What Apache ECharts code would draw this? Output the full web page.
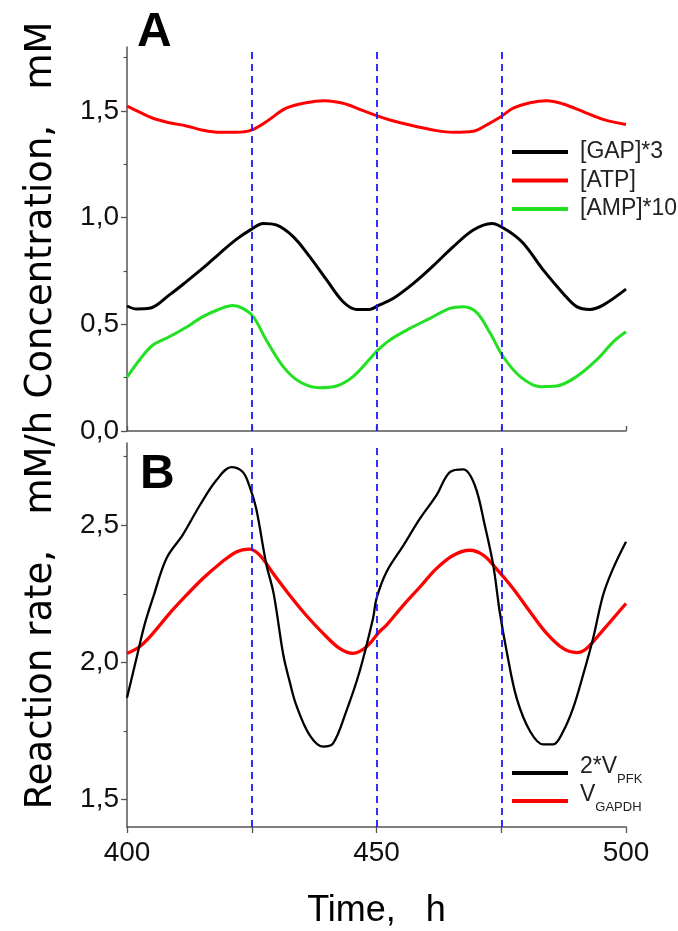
<!DOCTYPE html>
<html><head><meta charset="utf-8">
<script src="https://cdn.jsdelivr.net/npm/echarts@6/dist/echarts.min.js"></script>
<style>html,body{margin:0;padding:0;background:#fff}#c{width:678px;height:931px}</style>
</head><body><div id="c"></div>
<script>
// ---- axis / tick data ----
const xTicks = [400, 425, 450, 475, 500];
const xLabels = [400, 450, 500];
const markTimes = [425, 450, 475];
const yTicksA = [0, 0.5, 1.0, 1.5];
const yMinorA = [0.25, 0.75, 1.25, 1.75];
const yTicksB = [1.5, 2.0, 2.5];
const yMinorB = [1.75, 2.25, 2.75];

// ---- Panel A ----
const atpT = [400, 402.5, 405.2, 408.5, 411.9, 415.2, 418.6, 421.9, 424.9, 427.9, 431.9, 435.9, 439.6, 443.3, 446.6, 450, 452.7, 456.7, 462.0, 465.4, 469.4, 472.1, 474.9, 477.4, 480.8, 484.1, 487.4, 491.4, 495.4, 500];
const atpV = [1.523, 1.495, 1.466, 1.445, 1.43, 1.41, 1.40, 1.40, 1.41, 1.45, 1.513, 1.539, 1.548, 1.536, 1.508, 1.478, 1.458, 1.434, 1.408, 1.40, 1.405, 1.435, 1.473, 1.513, 1.539, 1.548, 1.533, 1.497, 1.461, 1.437];

const gapT = [400, 401.9, 404.5, 408.5, 411.9, 415.2, 418.6, 421.9, 424.9, 427.3, 429.9, 433.3, 436.6, 440, 443.3, 446, 448.6, 450.5, 453.4, 457.4, 461.4, 465.4, 469.4, 473.1, 476.1, 479.4, 483.4, 487.4, 490.1, 492.8, 495.4, 500];
const gapV = [0.586, 0.572, 0.575, 0.638, 0.70, 0.763, 0.833, 0.898, 0.945, 0.973, 0.966, 0.911, 0.817, 0.708, 0.606, 0.570, 0.570, 0.59, 0.622, 0.692, 0.775, 0.864, 0.942, 0.973, 0.942, 0.88, 0.755, 0.645, 0.583, 0.570, 0.59, 0.665];

const ampT = [400, 402.5, 405.2, 408.5, 411.9, 415.2, 418.6, 421.2, 423.2, 425.3, 427.9, 431.3, 434.6, 438.6, 442, 445.3, 448.6, 450.3, 452.7, 456.7, 460.7, 464.7, 467.4, 470.1, 472.8, 475.4, 478.8, 482.8, 486.1, 490.1, 494.1, 497.5, 500];
const ampV = [0.252, 0.333, 0.403, 0.442, 0.486, 0.536, 0.572, 0.588, 0.575, 0.536, 0.427, 0.302, 0.231, 0.203, 0.211, 0.255, 0.336, 0.38, 0.427, 0.481, 0.528, 0.575, 0.583, 0.555, 0.458, 0.348, 0.255, 0.208, 0.211, 0.255, 0.333, 0.419, 0.465];

// ---- Panel B ----
const pfkT = [400, 401.9, 403.5, 405.2, 407.9, 411.2, 414.6, 417.9, 420.9, 423.2, 424.6, 425.9, 427.9, 429.4, 431.3, 432.6, 433.9, 436.6, 439.3, 441.3, 443.9, 446.6, 449.3, 450.0, 452.0, 455.4, 458.7, 462.0, 464.7, 467.4, 469.7, 471.7, 473.4, 474.7, 476.1, 478.1, 480.8, 483.4, 485.4, 487.4, 489.4, 491.4, 493.4, 495.4, 497.4, 500];
const pfkV = [1.871, 2.015, 2.136, 2.235, 2.379, 2.466, 2.573, 2.664, 2.712, 2.694, 2.64, 2.56, 2.36, 2.25, 2.03, 1.93, 1.845, 1.735, 1.693, 1.705, 1.82, 1.966, 2.16, 2.233, 2.33, 2.427, 2.524, 2.609, 2.694, 2.704, 2.646, 2.50, 2.354, 2.184, 2.039, 1.869, 1.748, 1.701, 1.701, 1.748, 1.833, 1.954, 2.087, 2.245, 2.342, 2.44];

const gapdhT = [400, 402.5, 405.2, 408.5, 411.9, 415.2, 418.6, 421.9, 424.6, 426.6, 429.3, 432.6, 435.9, 439.3, 442.6, 445.3, 448.0, 450.6, 452.0, 455.4, 458.7, 462.0, 465.4, 468.7, 471.4, 474.0, 477.4, 480.8, 484.1, 487.4, 490.1, 492.1, 495.4, 500];
const gapdhV = [2.033, 2.057, 2.106, 2.178, 2.245, 2.306, 2.36, 2.403, 2.413, 2.391, 2.324, 2.245, 2.172, 2.106, 2.051, 2.033, 2.057, 2.112, 2.136, 2.209, 2.275, 2.342, 2.391, 2.409, 2.391, 2.342, 2.269, 2.184, 2.106, 2.051, 2.036, 2.051, 2.118, 2.215];

const legendA = ['[GAP]*3', '[ATP]', '[AMP]*10'];
const legendB = ['2*VPFK', 'VGAPDH'];
const legendBRich = {'2*VPFK': '{n|2*V}{s|PFK}', 'VGAPDH': '{n|V}{s|GAPDH}'};

const zip = (t, v) => t.map((x, i) => [x, v[i]]);
const FONT = '"Liberation Sans", Arial, sans-serif';
const AX = '#555';
const fmt = v => v.toFixed(1).replace('.', ',');

const grids = [
  {left: 127, top: 47, width: 499, height: 384},
  {left: 127, top: 443, width: 499, height: 384}
];

function xAxis(gi, showLabels) {
  return {
    type: 'value', gridIndex: gi, min: 400, max: 500, interval: 25,
    axisLine: {show: true, lineStyle: {color: AX, width: 1.5}},
    axisTick: {show: true, inside: !showLabels, length: showLabels ? 6 : 5, lineStyle: {color: AX, width: 1.3}},
    axisLabel: {show: showLabels, customValues: xLabels, margin: 12, fontSize: 28, lineHeight: 28, color: '#111', fontFamily: FONT},
    splitLine: {show: false},
    name: showLabels ? 'Time,   h' : '', nameLocation: 'middle', nameGap: 66,
    nameTextStyle: {fontSize: 36, lineHeight: 36, color: '#000', fontFamily: FONT}
  };
}
function yAxisMain(gi, min, max, ticks, name, pad) {
  return {
    type: 'value', gridIndex: gi, min: min, max: max,
    axisLine: {show: true, lineStyle: {color: AX, width: 1.5}},
    axisTick: {show: true, customValues: ticks, length: 6, lineStyle: {color: AX, width: 1.3}},
    axisLabel: {show: true, customValues: ticks, formatter: fmt, margin: 8, fontSize: 28, color: '#111', fontFamily: FONT},
    splitLine: {show: false},
    name: name, nameLocation: 'middle', nameGap: 67,
    nameTextStyle: {fontSize: 37, color: '#000', fontFamily: '"DejaVu Sans", sans-serif', padding: [0, 0, 0, pad]}
  };
}
function yAxisMinor(gi, min, max, ticks) {
  return {
    type: 'value', gridIndex: gi, min: min, max: max, position: 'left',
    axisLine: {show: false},
    axisTick: {show: true, customValues: ticks, length: 3.5, lineStyle: {color: AX, width: 1.2}},
    axisLabel: {show: false},
    splitLine: {show: false}
  };
}

const markLineCfg = {
  silent: true, symbol: ['none', 'none'], label: {show: false},
  lineStyle: {type: [7, 5], color: '#1a1aff', width: 1.8},
  data: markTimes.map(t => ({xAxis: t}))
};

function lineSeries(name, xi, yi, data, color, width, withMark) {
  const s = {
    name: name, type: 'line', xAxisIndex: xi, yAxisIndex: yi, data: data,
    showSymbol: false, symbol: 'none', smooth: 0.35,
    lineStyle: {color: color, width: width}, itemStyle: {color: color},
    z: 3
  };
  if (withMark) s.markLine = markLineCfg;
  return s;
}

const option = {
  animation: false,
  backgroundColor: '#fff',
  textStyle: {fontFamily: FONT},
  grid: grids,
  xAxis: [xAxis(0, false), xAxis(1, true)],
  yAxis: [
    yAxisMain(0, 0, 1.8, yTicksA, 'Concentration,   mM', 58),
    yAxisMinor(0, 0, 1.8, yMinorA),
    yAxisMain(1, 1.4, 2.8, yTicksB, 'Reaction rate,   mM/h', 50),
    yAxisMinor(1, 1.4, 2.8, yMinorB)
  ],
  legend: [
    {
      data: legendA, orient: 'vertical', left: 512, top: 139, padding: 0,
      icon: 'rect', itemWidth: 56, itemHeight: 4, itemGap: 2.5, selectedMode: false,
      textStyle: {fontSize: 23, lineHeight: 26, color: '#222', fontFamily: FONT, padding: [0, 0, 0, 7]}
    },
    {
      data: legendB, orient: 'vertical', left: 512, top: 747, padding: 0,
      icon: 'rect', itemWidth: 56, itemHeight: 4, itemGap: -11, selectedMode: false,
      formatter: n => legendBRich[n],
      textStyle: {
        color: '#222', fontFamily: FONT, padding: [0, 0, 0, 7],
        rich: {
          n: {fontSize: 23, lineHeight: 26, padding: [8, 0, 8, 0], verticalAlign: 'bottom', color: '#222', fontFamily: FONT},
          s: {fontSize: 13, lineHeight: 14, verticalAlign: 'bottom', color: '#222', fontFamily: FONT}
        }
      }
    }
  ],
  graphic: [
    {type: 'text', x: 137, y: 33, style: {text: 'A', font: 'bold 48px "Liberation Sans", Arial', fill: '#000', align: 'left', verticalAlign: 'middle'}},
    {type: 'text', x: 140, y: 475, style: {text: 'B', font: 'bold 48px "Liberation Sans", Arial', fill: '#000', align: 'left', verticalAlign: 'middle'}}
  ],
  series: [
    lineSeries('[ATP]', 0, 0, zip(atpT, atpV), '#ff0000', 3, true),
    lineSeries('[GAP]*3', 0, 0, zip(gapT, gapV), '#000000', 3, false),
    lineSeries('[AMP]*10', 0, 0, zip(ampT, ampV), '#22e022', 3, false),
    lineSeries('VGAPDH', 1, 2, zip(gapdhT, gapdhV), '#ff0000', 3.3, true),
    lineSeries('2*VPFK', 1, 2, zip(pfkT, pfkV), '#000000', 2.3, false)
  ]
};

const chart = echarts.init(document.getElementById('c'), null, {renderer: 'canvas'});
chart.setOption(option);
</script>
</body></html>
